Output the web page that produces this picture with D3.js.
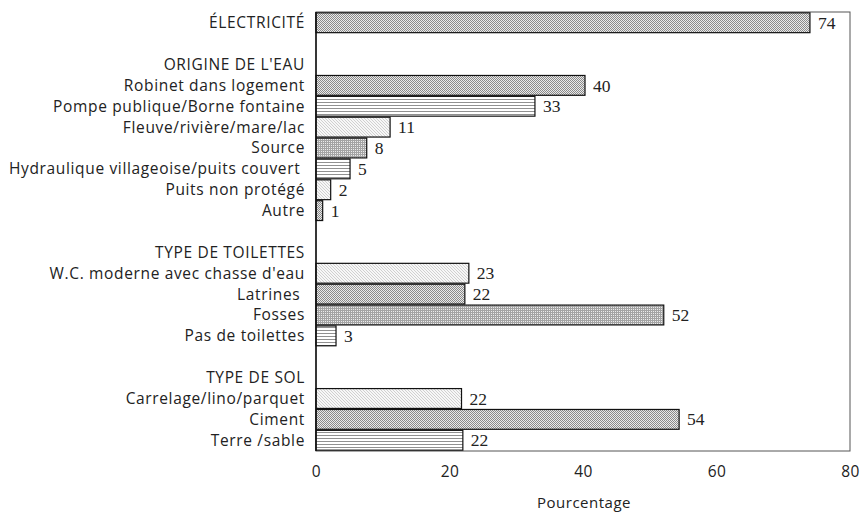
<!DOCTYPE html>
<html>
<head>
<meta charset="utf-8">
<script src="https://cdn.jsdelivr.net/npm/d3@7"></script>
<style>
  body { margin: 0; background: #fff; }
  text { white-space: pre; }
</style>
</head>
<body>
<div id="chart"></div>
<script>
// rows from top to bottom ("" = empty row)
var labels = [
	"ÉLECTRICITÉ",
	"",
	"ORIGINE DE L'EAU",
	"Robinet dans logement",
	"Pompe publique/Borne fontaine",
	"Fleuve/rivière/mare/lac",
	"Source",
	"Hydraulique villageoise/puits couvert ",
	"Puits non protégé",
	"Autre",
	"",
	"TYPE DE TOILETTES",
	"W.C. moderne avec chasse d'eau",
	"Latrines ",
	"Fosses",
	"Pas de toilettes",
	"",
	"TYPE DE SOL",
	"Carrelage/lino/parquet",
	"Ciment",
	"Terre /sable"
];
// percentages (null = no bar)
var values = [74.0, null, null, 40.3, 32.8, 11.1, 7.6, 5.1, 2.2, 1.0, null, null,
	22.9, 22.3, 52.1, 3.0, null, null, 21.8, 54.4, 22.0];
var tickValues = [0, 20, 40, 60, 80];
var xTitle = "Pourcentage";

// fill of each bar
var barPattern = ["checker", null, null, "checker", "hlines", "light", "dots", "hlines", "light", "checker",
	null, null, "light", "checker", "dots", "hlines", null, null, "light", "checker", "hlines"];

var width = 862, height = 513;
var plotLeft = 316, plotRight = 850, plotTop = 12, plotBottom = 451;
var labelFont = "'Open Sans', Lato, sans-serif";

var svg = d3.select("#chart").append("svg")
	.attr("width", width)
	.attr("height", height);

var defs = svg.append("defs");

function pattern(id, size, bg, cells, color) {
	var p = defs.append("pattern")
		.attr("id", id)
		.attr("patternUnits", "userSpaceOnUse")
		.attr("width", size[0]).attr("height", size[1]);
	p.append("rect").attr("width", size[0]).attr("height", size[1]).attr("fill", bg);
	cells.forEach(function(c) {
		p.append("rect").attr("x", c[0]).attr("y", c[1]).attr("width", c[2]).attr("height", c[3]).attr("fill", color);
	});
}
pattern("checker", [2, 2], "#eaeaea", [[0, 0, 1, 1], [1, 1, 1, 1]], "#8a8a8a");
pattern("hlines", [3, 3], "#ffffff", [[0, 0, 3, 1]], "#909090");
pattern("light", [3, 3], "#f7f7f7", [[0, 0, 1, 1], [1, 1, 1, 1], [2, 2, 1, 1]], "#d0d0d0");
pattern("dots", [2, 2], "#a4a4a4", [[1, 1, 1, 1]], "#ececec");

var x = d3.scaleLinear()
	.domain([0, 80])
	.range([plotLeft, plotRight]);

var y = d3.scaleBand()
	.domain(d3.range(labels.length))
	.range([plotTop, plotBottom])
	.paddingInner(0.05)
	.paddingOuter(0.04);

// frame
svg.append("rect")
	.attr("x", plotLeft).attr("y", plotTop)
	.attr("width", plotRight - plotLeft).attr("height", plotBottom - plotTop)
	.attr("fill", "none")
	.attr("stroke", "#555")
	.attr("stroke-width", 1);

var rows = labels.map(function(d, i) { return { label: d, value: values[i], fill: barPattern[i], i: i }; });

svg.append("g").selectAll("rect")
	.data(rows.filter(function(d) { return d.value != null; }))
	.enter()
	.append("rect")
	.attr("x", x(0))
	.attr("y", function(d) { return y(d.i); })
	.attr("width", function(d) { return x(d.value) - x(0); })
	.attr("height", y.bandwidth())
	.attr("fill", function(d) { return "url(#" + d.fill + ")"; })
	.attr("stroke", "#111")
	.attr("stroke-width", 1.2);

// left axis line
svg.append("line")
	.attr("x1", plotLeft).attr("x2", plotLeft)
	.attr("y1", plotTop).attr("y2", plotBottom)
	.attr("stroke", "#111").attr("stroke-width", 1.5);

// category labels
svg.append("g").selectAll("text")
	.data(rows)
	.enter()
	.append("text")
	.attr("x", 305)
	.attr("y", function(d) { return y(d.i) + y.bandwidth() / 2; })
	.attr("dy", "0.35em")
	.attr("text-anchor", "end")
	.attr("font-family", labelFont)
	.attr("font-size", 15.5)
	.attr("letter-spacing", 0.65)
	.attr("fill", "#222")
	.text(function(d) { return d.label; });

// value labels
svg.append("g").selectAll("text")
	.data(rows.filter(function(d) { return d.value != null; }))
	.enter()
	.append("text")
	.attr("x", function(d) { return x(d.value) + 8; })
	.attr("y", function(d) { return y(d.i) + y.bandwidth() / 2; })
	.attr("dy", "0.35em")
	.attr("font-family", "'Liberation Serif', serif")
	.attr("font-size", 17.5)
	.attr("fill", "#222")
	.text(function(d) { return Math.round(d.value); });

// bottom axis
var axis = svg.append("g")
	.attr("transform", "translate(0," + plotBottom + ")")
	.call(d3.axisBottom(x).tickValues(tickValues).tickSize(0).tickPadding(15));
axis.select(".domain").remove();
axis.selectAll("text")
	.attr("font-family", labelFont)
	.attr("font-size", 15.5)
	.attr("letter-spacing", 0.5)
	.attr("fill", "#222");

svg.append("text")
	.attr("x", 584)
	.attr("y", 508)
	.attr("text-anchor", "middle")
	.attr("font-family", labelFont)
	.attr("font-size", 15)
	.attr("letter-spacing", 0.5)
	.attr("fill", "#222")
	.text(xTitle);
</script>
</body>
</html>
